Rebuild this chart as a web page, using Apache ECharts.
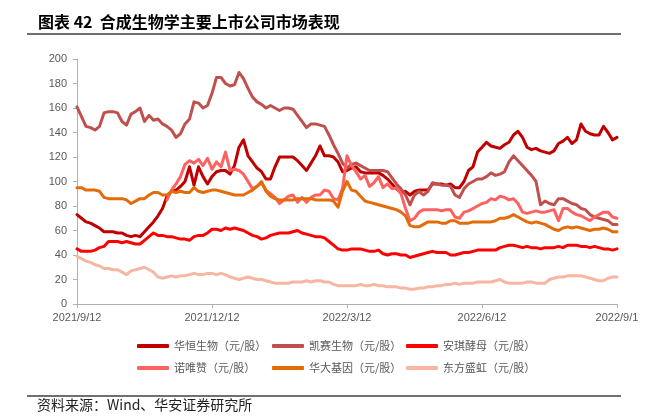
<!DOCTYPE html>
<html><head><meta charset="utf-8">
<script src="https://cdn.jsdelivr.net/npm/echarts/dist/echarts.min.js"></script>
<style>html,body{margin:0;padding:0;background:#fff}#c{width:648px;height:416px}</style>
</head><body><div id="c"></div>
<script>
// tick labels on the x axis (every 30 trading-day points)
const tickLabels = ['2021/9/12', '2021/12/12', '2022/3/12', '2022/6/12', '2022/9/1'];
const seriesNames = ['华恒生物（元/股）', '凯赛生物（元/股）', '安琪酵母（元/股）', '诺唯赞（元/股）', '华大基因（元/股）', '东方盛虹（元/股）'];
const seriesColors = ['#C00000', '#C0504D', '#FF0000', '#FF6060', '#E36C09', '#F6B6A1'];

const huaheng = [73,70,67,66,64,62,59,59,59,58,58,56,55,56,55,59,63,67,72,78,88,92,93,96,100,112,97,112,104,98,104,
  108,109,109,106,113,128,134,121,116,111,108,102,102,112,120,120,120,120,117,113,109,115,121,129,121,121,120,116,108,109,
  111,112,108,107,107,107,107,105,102,98,94,91,92,89,92,93,93,93,98,98,98,97,98,95,95,100,109,112,124,128,
  132,129,128,127,130,132,138,141,136,128,126,127,125,124,123,125,131,133,136,131,134,147,141,139,138,138,145,140,134,136];
const kaisai = [161,153,145,144,142,145,156,157,157,156,149,146,155,157,160,149,154,150,151,147,145,142,136,139,147,151,165,164,160,162,172,
  185,185,180,178,179,189,184,176,169,165,163,160,162,160,158,160,160,159,154,149,144,147,147,146,145,138,130,123,115,111,
  114,115,113,111,109,109,109,109,108,103,98,94,89,81,89,92,89,92,99,98,97,97,96,89,87,94,98,100,102,102,
  104,107,105,106,108,116,121,117,113,109,105,100,81,84,82,81,86,86,84,82,81,78,77,73,71,70,69,68,65,65];
const angel = [45,43,43,43,44,46,47,51,51,51,50,51,50,49,49,52,55,58,56,56,55,55,54,53,53,52,55,56,56,58,61,
  61,60,62,61,62,61,60,58,56,55,53,54,56,57,58,58,58,59,60,58,57,56,55,55,54,51,48,45,44,44,
  45,45,45,44,43,43,44,41,40,41,41,40,40,38,39,40,41,42,43,42,42,42,40,40,41,42,42,43,44,44,
  44,44,44,46,47,48,48,47,46,47,46,46,45,46,46,46,47,46,48,48,48,47,47,46,47,46,45,45,44,45];
const vazyme = [null,null,null,null,null,null,null,null,null,null,null,null,null,null,null,null,null,null,null,null,
  85,93,98,104,114,117,115,118,113,119,110,
  116,112,124,109,110,109,106,100,94,96,99,93,90,87,82,85,88,89,83,87,83,87,89,89,93,92,86,85,94,121,
  113,108,102,105,96,99,104,95,98,94,95,90,78,68,70,75,77,77,77,77,76,77,77,71,70,75,76,78,80,82,
  83,86,85,88,87,85,86,82,75,74,75,76,75,75,76,77,68,78,78,75,73,72,70,68,71,73,75,75,71,70];
const bgi = [95,95,93,93,93,92,87,86,86,86,86,85,82,84,86,86,89,91,91,89,89,92,91,92,91,91,95,92,91,92,93,
  93,92,91,90,89,89,89,91,93,96,100,92,88,86,85,85,85,85,86,86,86,86,85,85,85,85,84,79,92,100,
  93,92,88,84,83,82,81,80,79,78,77,75,72,64,63,63,65,67,67,67,66,66,68,68,66,66,66,67,67,67,
  67,67,68,70,70,71,73,71,69,67,66,67,66,65,63,61,60,62,63,62,63,62,61,60,61,61,62,61,59,59];
const shenghong = [39,37,35,34,32,31,29,29,28,28,26,24,27,28,29,30,28,26,22,21,22,23,22,23,23,24,25,24,24,25,25,
  24,25,24,22,21,20,21,22,21,20,20,19,18,17,17,17,17,18,18,18,19,18,19,19,18,18,16,15,15,15,
  15,15,16,15,15,16,15,15,14,14,14,13,13,12,12,13,13,14,14,15,15,16,16,17,16,17,17,17,18,18,
  18,18,19,20,18,17,17,17,17,18,18,17,17,17,20,21,22,22,23,23,23,23,22,21,20,19,19,21,22,22];

const allData = [huaheng, kaisai, angel, vazyme, bgi, shenghong];
const categories = huaheng.map((_, i) => String(i));

const chart = echarts.init(document.getElementById('c'), null, {renderer: 'canvas'});
const txt = {fontFamily: '"Liberation Sans", Arial, sans-serif', fontSize: 11, color: '#595959'};
const legendPos = [[137, 339], [272, 339], [406, 339], [137, 361], [272, 361], [406, 361]];

chart.setOption({
  animation: false,
  backgroundColor: '#fff',
  grid: {left: 77, right: 31, top: 59, bottom: 112, containLabel: false},
  xAxis: {
    type: 'category', data: categories, boundaryGap: false,
    axisLine: {lineStyle: {color: '#B0B0B0', width: 1}},
    axisTick: {show: true, interval: 29, length: 4, lineStyle: {color: '#B0B0B0'}},
    axisLabel: {interval: 29, margin: 8, ...txt, formatter: (v, idx) => tickLabels[Math.round(idx / 30)]},
    splitLine: {show: false}
  },
  yAxis: {
    type: 'value', min: 0, max: 200, interval: 20,
    axisLine: {show: true, lineStyle: {color: '#B0B0B0', width: 1}},
    axisTick: {show: true, length: 4, lineStyle: {color: '#B0B0B0'}},
    axisLabel: {margin: 10, ...txt},
    splitLine: {show: false}
  },
  legend: seriesNames.map((n, k) => ({
    data: [n], left: legendPos[k][0], top: legendPos[k][1], padding: 0,
    itemWidth: 32, itemHeight: 4, icon: 'roundRect',
    textStyle: {fontFamily: '"Noto Sans CJK SC", sans-serif', fontSize: 11, color: '#595959', lineHeight: 14}
  })),
  series: seriesNames.map((n, k) => ({
    name: n, type: 'line', data: allData[k], showSymbol: false, symbol: 'none',
    connectNulls: false, lineStyle: {width: 3, color: seriesColors[k], cap: 'round', join: 'round'},
    itemStyle: {color: seriesColors[k]}
  })),
  graphic: [
    {type: 'text', left: 38, top: 14, style: {text: '图表 42  合成生物学主要上市公司市场表现', font: 'bold 16px "Noto Sans CJK SC", sans-serif', fill: '#000'}},
    {type: 'line', shape: {x1: 27, y1: 34, x2: 621, y2: 34}, style: {stroke: '#404040', lineWidth: 1.5}},
    {type: 'line', shape: {x1: 27, y1: 396, x2: 621, y2: 396}, style: {stroke: '#404040', lineWidth: 1.5}},
    {type: 'text', left: 37, top: 398, style: {text: '资料来源：Wind、华安证券研究所', font: '14px "Noto Sans CJK SC", sans-serif', fill: '#222'}}
  ]
});
</script></body></html>
